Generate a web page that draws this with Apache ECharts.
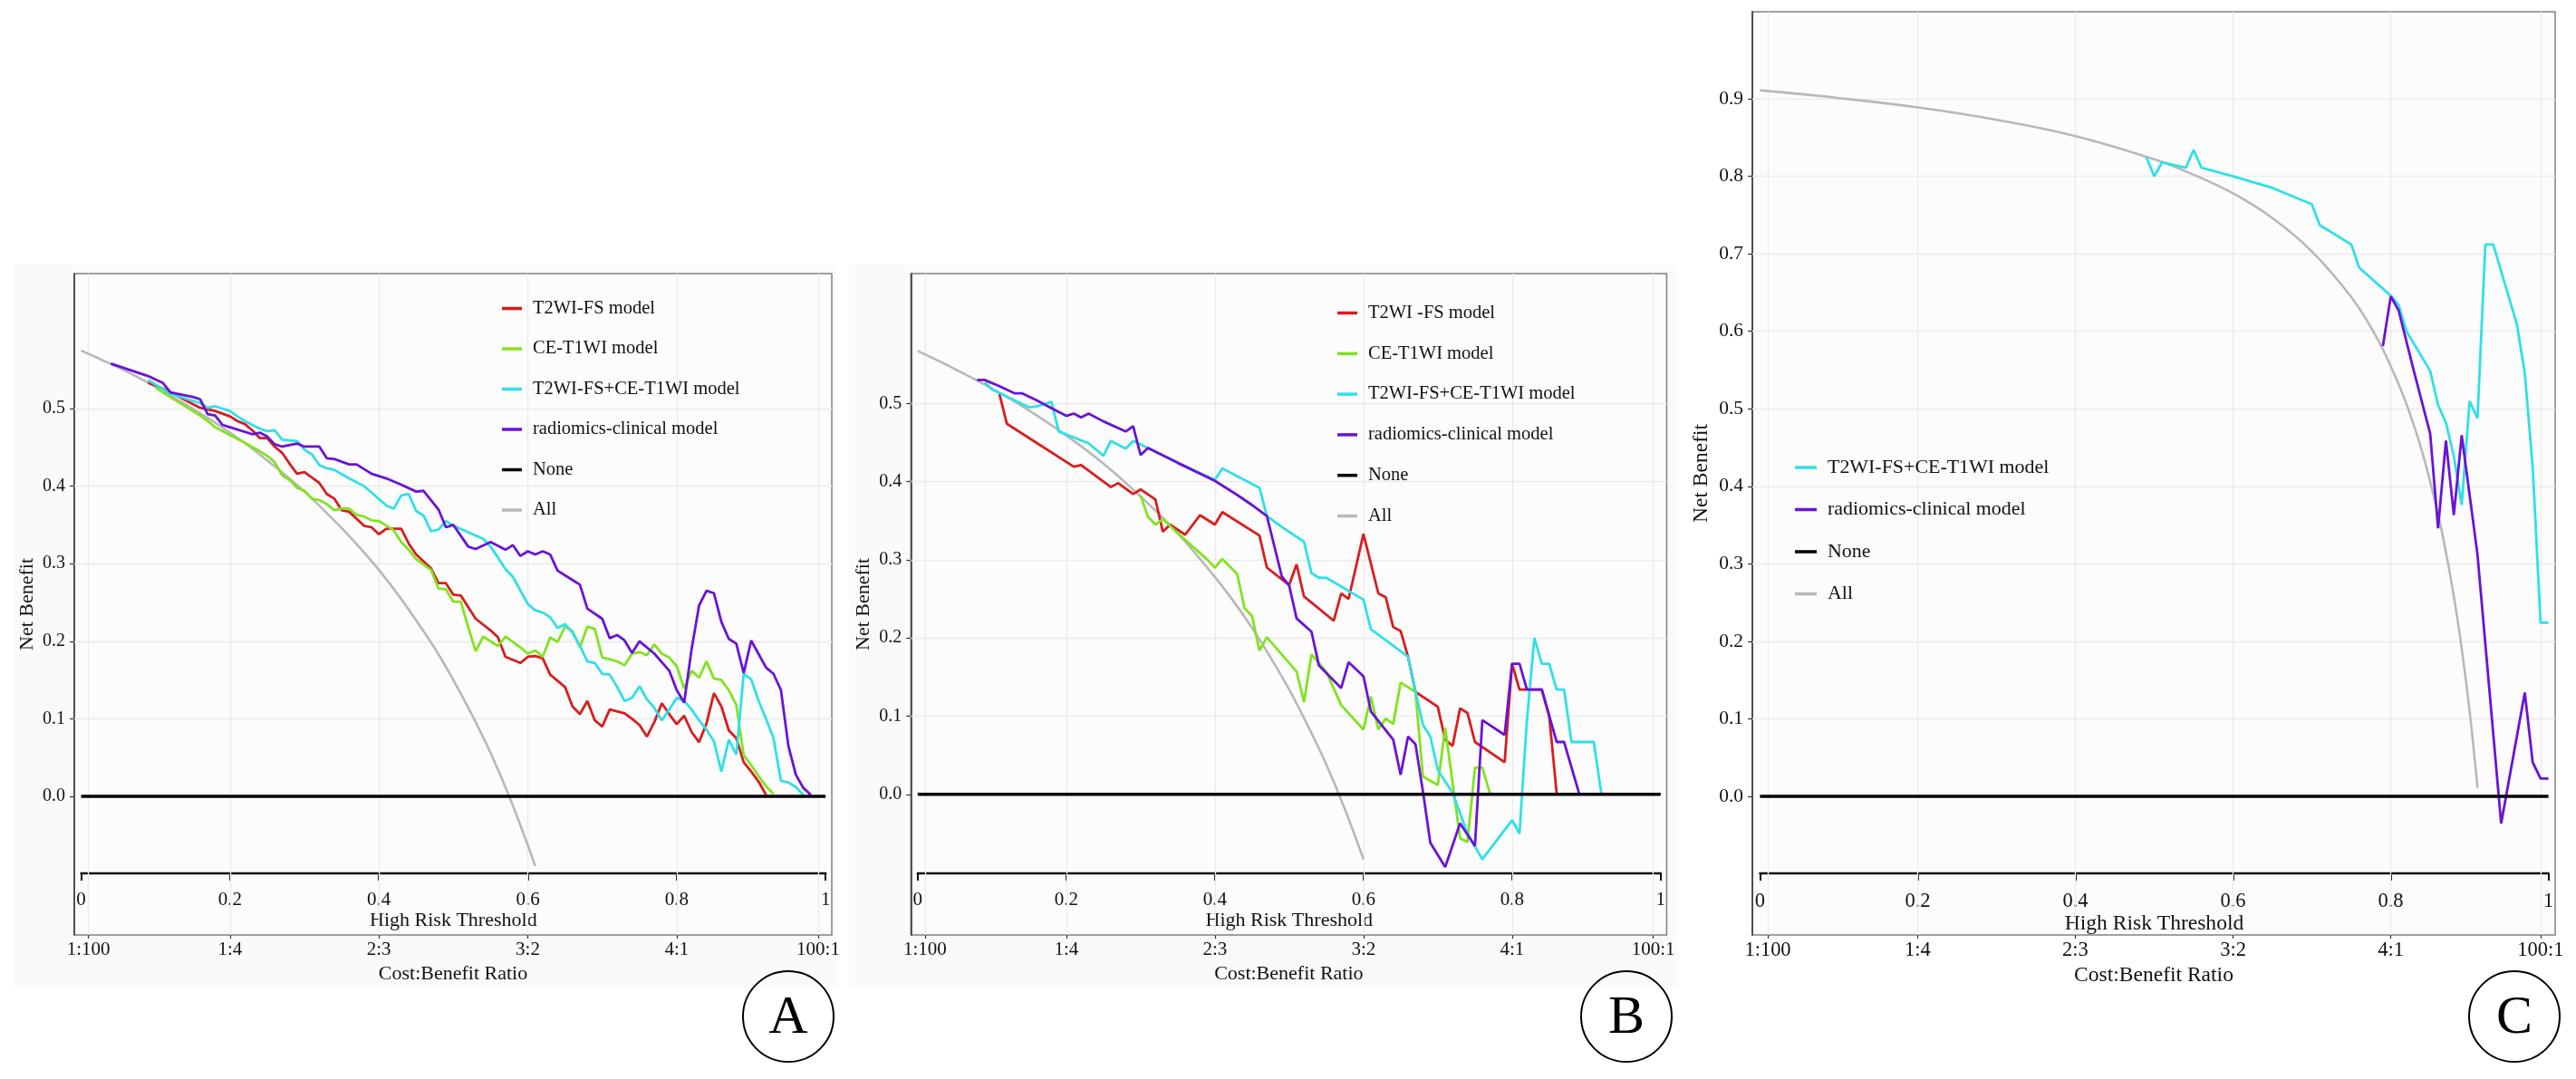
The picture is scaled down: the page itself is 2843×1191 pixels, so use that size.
<!DOCTYPE html>
<html>
<head>
<meta charset="utf-8">
<title>Decision curve analysis</title>
<script src="https://cdn.jsdelivr.net/npm/echarts@6/dist/echarts.min.js"></script>
<style>
html, body { margin: 0; padding: 0; background: #fff; }
#main { width: 2843px; height: 1191px; }
</style>
</head>
<body>
<div id="main"></div>
<script>
// cost:benefit ratio axis
const ratioTicks = [0.0099, 0.2, 0.4, 0.6, 0.8, 0.99];
const ratioLabels = ['1:100', '1:4', '2:3', '3:2', '4:1', '100:1'];
// threshold axis and net benefit ticks
const thresholdTicks = [0, 0.2, 0.4, 0.6, 0.8, 1];
const nbTicksAB = [0, 0.1, 0.2, 0.3, 0.4, 0.5];
const nbTicksC = [0, 0.1, 0.2, 0.3, 0.4, 0.5, 0.6, 0.7, 0.8, 0.9];

// reference line: treat none
const noneLine = [[0, 0], [1, 0]];

// ---- panel A: [threshold, net benefit]
const aAll = [[0, 0.575], [0.025, 0.564], [0.05, 0.553], [0.075, 0.541], [0.1, 0.528], [0.125, 0.514],
  [0.15, 0.500], [0.175, 0.485], [0.2, 0.469], [0.225, 0.452], [0.25, 0.433], [0.275, 0.414],
  [0.3, 0.393], [0.325, 0.370], [0.35, 0.346], [0.375, 0.320], [0.4, 0.292], [0.425, 0.261],
  [0.45, 0.227], [0.475, 0.191], [0.5, 0.150], [0.525, 0.105], [0.55, 0.056], [0.575, 0.000],
  [0.6, -0.063], [0.61, -0.090]];
const aT2wi = [[0.09, 0.533], [0.10, 0.530], [0.12, 0.521], [0.16, 0.501], [0.18, 0.497], [0.20, 0.490],
  [0.21, 0.484], [0.22, 0.480], [0.23, 0.472], [0.24, 0.462], [0.25, 0.462], [0.26, 0.451], [0.27, 0.443],
  [0.28, 0.429], [0.29, 0.416], [0.30, 0.418], [0.32, 0.404], [0.33, 0.390], [0.34, 0.384], [0.35, 0.369],
  [0.36, 0.367], [0.38, 0.349], [0.39, 0.347], [0.40, 0.338], [0.41, 0.345], [0.43, 0.345], [0.44, 0.326],
  [0.45, 0.312], [0.47, 0.294], [0.48, 0.275], [0.49, 0.275], [0.50, 0.260], [0.51, 0.259], [0.53, 0.229],
  [0.55, 0.214], [0.56, 0.205], [0.57, 0.180], [0.59, 0.172], [0.60, 0.180], [0.61, 0.181], [0.62, 0.178],
  [0.63, 0.157], [0.65, 0.141], [0.66, 0.116], [0.67, 0.106], [0.68, 0.123], [0.69, 0.098], [0.70, 0.090],
  [0.71, 0.112], [0.73, 0.107], [0.74, 0.100], [0.75, 0.092], [0.76, 0.077], [0.77, 0.096], [0.78, 0.120],
  [0.79, 0.106], [0.80, 0.093], [0.81, 0.104], [0.82, 0.083], [0.83, 0.070], [0.84, 0.094], [0.85, 0.133],
  [0.86, 0.116], [0.87, 0.085], [0.88, 0.075], [0.89, 0.044], [0.90, 0.032], [0.91, 0.019], [0.92, 0.002]];
const aCe = [[0.10, 0.527], [0.12, 0.515], [0.13, 0.509], [0.15, 0.497], [0.16, 0.491], [0.17, 0.484],
  [0.18, 0.476], [0.20, 0.466], [0.22, 0.456], [0.24, 0.445], [0.25, 0.439], [0.26, 0.431], [0.27, 0.414],
  [0.28, 0.408], [0.29, 0.398], [0.30, 0.394], [0.31, 0.384], [0.32, 0.382], [0.33, 0.377], [0.34, 0.369],
  [0.35, 0.371], [0.36, 0.371], [0.37, 0.363], [0.38, 0.361], [0.39, 0.356], [0.40, 0.355], [0.42, 0.343],
  [0.43, 0.328], [0.44, 0.318], [0.45, 0.306], [0.46, 0.299], [0.47, 0.292], [0.48, 0.268], [0.49, 0.267],
  [0.50, 0.251], [0.51, 0.251], [0.52, 0.218], [0.53, 0.187], [0.54, 0.206], [0.56, 0.194], [0.57, 0.206],
  [0.59, 0.192], [0.60, 0.184], [0.61, 0.188], [0.62, 0.180], [0.63, 0.205], [0.64, 0.199], [0.65, 0.219],
  [0.66, 0.213], [0.67, 0.192], [0.68, 0.219], [0.69, 0.216], [0.70, 0.179], [0.71, 0.177], [0.72, 0.174],
  [0.73, 0.169], [0.74, 0.184], [0.75, 0.186], [0.76, 0.182], [0.77, 0.196], [0.78, 0.184], [0.79, 0.179],
  [0.80, 0.168], [0.81, 0.139], [0.82, 0.162], [0.83, 0.153], [0.84, 0.174], [0.85, 0.152], [0.86, 0.150],
  [0.87, 0.137], [0.88, 0.118], [0.89, 0.053], [0.90, 0.040], [0.91, 0.026], [0.92, 0.013], [0.93, 0.003]];
const aCombo = [[0.09, 0.537], [0.12, 0.519], [0.16, 0.507], [0.17, 0.501], [0.18, 0.503], [0.20, 0.497],
  [0.21, 0.490], [0.22, 0.484], [0.24, 0.474], [0.25, 0.471], [0.26, 0.472], [0.27, 0.460], [0.29, 0.458],
  [0.30, 0.447], [0.31, 0.441], [0.32, 0.427], [0.33, 0.423], [0.34, 0.421], [0.36, 0.410], [0.38, 0.400],
  [0.39, 0.392], [0.41, 0.375], [0.42, 0.371], [0.43, 0.388], [0.44, 0.390], [0.45, 0.368], [0.46, 0.362],
  [0.47, 0.342], [0.48, 0.344], [0.49, 0.355], [0.50, 0.349], [0.54, 0.332], [0.55, 0.322], [0.56, 0.308],
  [0.57, 0.293], [0.58, 0.283], [0.60, 0.248], [0.61, 0.240], [0.62, 0.237], [0.63, 0.231], [0.64, 0.217],
  [0.65, 0.222], [0.66, 0.211], [0.67, 0.194], [0.68, 0.174], [0.69, 0.172], [0.70, 0.158], [0.71, 0.157],
  [0.72, 0.141], [0.73, 0.123], [0.74, 0.127], [0.75, 0.142], [0.76, 0.125], [0.77, 0.114], [0.78, 0.098],
  [0.79, 0.112], [0.80, 0.127], [0.81, 0.123], [0.82, 0.112], [0.83, 0.098], [0.84, 0.086], [0.85, 0.071],
  [0.86, 0.032], [0.87, 0.073], [0.88, 0.054], [0.89, 0.158], [0.90, 0.151], [0.91, 0.123], [0.92, 0.100],
  [0.93, 0.075], [0.94, 0.020], [0.95, 0.018], [0.96, 0.012], [0.97, 0.002]];
const aRadClin = [[0.04, 0.558], [0.09, 0.542], [0.11, 0.533], [0.12, 0.521], [0.15, 0.515], [0.16, 0.512],
  [0.17, 0.493], [0.18, 0.491], [0.19, 0.479], [0.20, 0.476], [0.23, 0.467], [0.24, 0.469], [0.25, 0.464],
  [0.26, 0.454], [0.27, 0.451], [0.29, 0.455], [0.30, 0.451], [0.32, 0.451], [0.33, 0.436], [0.34, 0.435],
  [0.36, 0.428], [0.37, 0.428], [0.39, 0.416], [0.41, 0.410], [0.43, 0.402], [0.45, 0.393], [0.46, 0.394],
  [0.48, 0.370], [0.49, 0.347], [0.50, 0.350], [0.52, 0.322], [0.53, 0.319], [0.55, 0.328], [0.57, 0.318],
  [0.58, 0.324], [0.59, 0.310], [0.60, 0.316], [0.61, 0.312], [0.62, 0.316], [0.63, 0.312], [0.64, 0.291],
  [0.66, 0.279], [0.67, 0.273], [0.68, 0.242], [0.70, 0.229], [0.71, 0.204], [0.72, 0.208], [0.73, 0.201],
  [0.74, 0.185], [0.75, 0.200], [0.77, 0.184], [0.79, 0.162], [0.80, 0.137], [0.81, 0.121], [0.82, 0.190],
  [0.83, 0.246], [0.84, 0.265], [0.85, 0.262], [0.86, 0.225], [0.87, 0.203], [0.88, 0.197], [0.89, 0.159],
  [0.90, 0.201], [0.92, 0.166], [0.93, 0.158], [0.94, 0.137], [0.95, 0.065], [0.96, 0.028], [0.97, 0.011],
  [0.98, 0.002]];

// ---- panel B
const bAll = [[0, 0.567], [0.05, 0.544], [0.1, 0.519], [0.15, 0.491], [0.2, 0.459], [0.25, 0.423],
  [0.3, 0.381], [0.35, 0.334], [0.4, 0.278], [0.425, 0.247], [0.45, 0.213], [0.475, 0.175], [0.5, 0.134],
  [0.525, 0.088], [0.55, 0.038], [0.575, -0.019], [0.6, -0.083]];
const bT2wi = [[0.11, 0.512], [0.12, 0.474], [0.21, 0.419], [0.22, 0.421], [0.26, 0.393], [0.27, 0.398],
  [0.29, 0.384], [0.30, 0.390], [0.32, 0.377], [0.33, 0.336], [0.34, 0.345], [0.36, 0.332], [0.38, 0.357],
  [0.40, 0.345], [0.41, 0.361], [0.46, 0.331], [0.47, 0.290], [0.49, 0.275], [0.50, 0.268], [0.51, 0.294],
  [0.52, 0.253], [0.56, 0.222], [0.57, 0.257], [0.58, 0.250], [0.60, 0.333], [0.62, 0.257], [0.63, 0.252],
  [0.64, 0.214], [0.65, 0.209], [0.66, 0.176], [0.67, 0.131], [0.70, 0.112], [0.71, 0.070], [0.72, 0.062],
  [0.73, 0.110], [0.74, 0.104], [0.75, 0.067], [0.79, 0.041], [0.80, 0.167], [0.81, 0.134], [0.84, 0.134],
  [0.85, 0.100], [0.86, 0.002]];
const bCe = [[0.30, 0.382], [0.31, 0.355], [0.32, 0.345], [0.33, 0.352], [0.35, 0.334], [0.37, 0.317],
  [0.39, 0.300], [0.40, 0.290], [0.41, 0.301], [0.43, 0.282], [0.44, 0.238], [0.45, 0.228], [0.46, 0.184],
  [0.47, 0.201], [0.51, 0.157], [0.52, 0.118], [0.53, 0.179], [0.55, 0.157], [0.57, 0.114], [0.60, 0.083],
  [0.61, 0.125], [0.62, 0.083], [0.63, 0.097], [0.64, 0.090], [0.65, 0.143], [0.67, 0.131], [0.68, 0.023],
  [0.70, 0.012], [0.71, 0.085], [0.73, -0.056], [0.74, -0.061], [0.75, 0.034], [0.76, 0.034], [0.77, 0.002]];
const bCombo = [[0.09, 0.527], [0.10, 0.518], [0.13, 0.504], [0.15, 0.495], [0.16, 0.496], [0.18, 0.502],
  [0.19, 0.464], [0.23, 0.449], [0.25, 0.433], [0.26, 0.452], [0.28, 0.442], [0.29, 0.452], [0.31, 0.443],
  [0.35, 0.424], [0.40, 0.402], [0.41, 0.417], [0.46, 0.392], [0.47, 0.356], [0.49, 0.342], [0.52, 0.323],
  [0.53, 0.283], [0.54, 0.277], [0.55, 0.277], [0.60, 0.249], [0.61, 0.211], [0.66, 0.176], [0.67, 0.132],
  [0.68, 0.089], [0.69, 0.074], [0.70, 0.031], [0.72, 0.002], [0.74, -0.050], [0.76, -0.083], [0.80, -0.033],
  [0.81, -0.050], [0.82, 0.095], [0.83, 0.200], [0.84, 0.167], [0.85, 0.167], [0.86, 0.134], [0.87, 0.134],
  [0.88, 0.067], [0.91, 0.067], [0.92, 0.002]];
const bRadClin = [[0.08, 0.530], [0.09, 0.530], [0.11, 0.522], [0.13, 0.513], [0.14, 0.513], [0.16, 0.504],
  [0.18, 0.494], [0.20, 0.484], [0.21, 0.487], [0.22, 0.482], [0.23, 0.487], [0.25, 0.477], [0.28, 0.464],
  [0.29, 0.471], [0.30, 0.434], [0.31, 0.443], [0.35, 0.424], [0.40, 0.401], [0.43, 0.383], [0.45, 0.370],
  [0.47, 0.356], [0.49, 0.279], [0.50, 0.267], [0.51, 0.225], [0.53, 0.208], [0.54, 0.165], [0.57, 0.136],
  [0.58, 0.169], [0.60, 0.151], [0.61, 0.106], [0.64, 0.070], [0.65, 0.025], [0.66, 0.074], [0.67, 0.064],
  [0.68, 0.004], [0.69, -0.062], [0.71, -0.093], [0.73, -0.037], [0.75, -0.066], [0.76, 0.095], [0.79, 0.076],
  [0.80, 0.167], [0.81, 0.167], [0.82, 0.134], [0.84, 0.134], [0.86, 0.067], [0.87, 0.067], [0.89, 0.002]];

// ---- panel C
const cAll = [[0, 0.911], [0.1, 0.901], [0.2, 0.889], [0.3, 0.873], [0.4, 0.852], [0.5, 0.822],
  [0.55, 0.802], [0.6, 0.778], [0.65, 0.746], [0.7, 0.703], [0.75, 0.644], [0.78, 0.596], [0.8, 0.555],
  [0.82, 0.506], [0.84, 0.444], [0.86, 0.364], [0.87, 0.315], [0.88, 0.258], [0.89, 0.191], [0.9, 0.110],
  [0.91, 0.011]];
const cCombo = [[0.49, 0.825], [0.50, 0.800], [0.51, 0.818], [0.54, 0.811], [0.55, 0.834], [0.56, 0.811],
  [0.60, 0.800], [0.65, 0.785], [0.70, 0.764], [0.71, 0.737], [0.75, 0.712], [0.76, 0.682], [0.80, 0.646],
  [0.81, 0.634], [0.82, 0.600], [0.85, 0.549], [0.86, 0.505], [0.87, 0.482], [0.88, 0.439], [0.89, 0.376],
  [0.90, 0.510], [0.91, 0.488], [0.92, 0.712], [0.93, 0.712], [0.96, 0.609], [0.97, 0.546], [0.98, 0.425],
  [0.99, 0.224], [1.00, 0.224]];
const cRadClin = [[0.79, 0.581], [0.80, 0.645], [0.81, 0.627], [0.83, 0.546], [0.85, 0.468], [0.86, 0.346],
  [0.87, 0.459], [0.88, 0.363], [0.89, 0.466], [0.91, 0.312], [0.94, -0.035], [0.97, 0.134], [0.98, 0.044],
  [0.99, 0.023], [1.00, 0.023]];

const RED = '#d81d1d', GREEN = '#82e31f', CYAN = '#2fe0e8', PURPLE = '#6914d6', GRAY = '#b8b8b8';
const FONT = 'Liberation Serif';

const panels = [
  { frame: { left: 82, top: 302, width: 836, height: 730 }, thr: { left: 89.5, width: 821.7 },
    xr: [-0.00913, 1.00828], yr: [-0.1787, 0.6741], yTicks: nbTicksAB, fs: 1,
    legend: { left: 554, top: 330, w: 22, gap: 23.5 }, letter: 'A', cx: 870, bg: [15, 292, 908, 798],
    series: [['All', aAll, GRAY], ['T2WI-FS model', aT2wi, RED], ['CE-T1WI model', aCe, GREEN],
      ['T2WI-FS+CE-T1WI model', aCombo, CYAN], ['radiomics-clinical model', aRadClin, PURPLE]],
    legendNames: ['T2WI-FS model', 'CE-T1WI model', 'T2WI-FS+CE-T1WI model', 'radiomics-clinical model', 'None', 'All'] },
  { frame: { left: 1005.3, top: 302, width: 834.1, height: 730 }, thr: { left: 1012.8, width: 820 },
    xr: [-0.00915, 1.00805], yr: [-0.1798, 0.666], yTicks: nbTicksAB, fs: 1,
    legend: { left: 1476, top: 335, w: 22, gap: 23.8 }, letter: 'B', cx: 1795, bg: [937, 292, 913, 798],
    series: [['All', bAll, GRAY], ['T2WI -FS model', bT2wi, RED], ['CE-T1WI model', bCe, GREEN],
      ['T2WI-FS+CE-T1WI model', bCombo, CYAN], ['radiomics-clinical model', bRadClin, PURPLE]],
    legendNames: ['T2WI -FS model', 'CE-T1WI model', 'T2WI-FS+CE-T1WI model', 'radiomics-clinical model', 'None', 'All'] },
  { frame: { left: 1934, top: 13, width: 886, height: 1019 }, thr: { left: 1942.4, width: 870.2 },
    xr: [-0.00965, 1.00851], yr: [-0.1788, 1.0123], yTicks: nbTicksC, fs: 1.07,
    legend: { left: 1981, top: 505, w: 24, gap: 24.5 }, letter: 'C', cx: 2775, bg: null,
    series: [['All', cAll, GRAY], ['T2WI-FS+CE-T1WI model', cCombo, CYAN], ['radiomics-clinical model', cRadClin, PURPLE]],
    legendNames: ['T2WI-FS+CE-T1WI model', 'radiomics-clinical model', 'None', 'All'] }
];

const grids = [], xAxes = [], yAxes = [], series = [], legends = [], graphics = [];

panels.forEach(function (p, i) {
  const g = 2 * i;
  const fs = p.fs;
  grids.push({ left: p.frame.left, top: p.frame.top, width: p.frame.width, height: p.frame.height,
    show: true, backgroundColor: '#fcfcfc', borderColor: '#808080', borderWidth: 1.5,
    containLabel: false, outerBoundsMode: 'none' });
  grids.push({ left: p.thr.left, width: p.thr.width, top: 900, height: 64, show: false,
    containLabel: false, outerBoundsMode: 'none' });

  xAxes.push({ gridIndex: g, type: 'value', min: p.xr[0], max: p.xr[1], position: 'bottom',
    axisLine: { show: false, onZero: false },
    axisTick: { show: true, length: 4, customValues: ratioTicks, lineStyle: { color: '#333', width: 1.2 } },
    axisLabel: { customValues: ratioTicks, margin: 6, color: '#111', fontFamily: FONT, fontSize: 21 * fs,
      formatter: function (v) {
        const k = ratioTicks.findIndex(function (r) { return Math.abs(r - v) < 1e-6; });
        return k >= 0 ? ratioLabels[k] : '';
      } },
    splitLine: { show: false },
    name: 'Cost:Benefit Ratio', nameLocation: 'middle', nameGap: 29 * fs,
    nameTextStyle: { color: '#111', fontFamily: FONT, fontSize: 22 * fs } });
  xAxes.push({ gridIndex: g + 1, type: 'value', min: 0, max: 1, interval: 0.2, position: 'bottom',
    axisLine: { show: true, onZero: false, lineStyle: { color: '#111', width: 2.4 } },
    axisTick: { show: true, length: 8, customValues: thresholdTicks, lineStyle: { color: '#111', width: 2 } },
    axisLabel: { customValues: thresholdTicks, margin: 19 * fs, color: '#111', fontFamily: FONT, fontSize: 21 * fs,
      formatter: function (v) { return String(Math.round(v * 10) / 10); } },
    splitLine: { show: false },
    name: 'High Risk Threshold', nameLocation: 'middle', nameGap: 41 * fs,
    nameTextStyle: { color: '#111', fontFamily: FONT, fontSize: 22 * fs } });

  yAxes.push({ gridIndex: g, type: 'value', min: p.yr[0], max: p.yr[1],
    axisLine: { show: true, onZero: false, lineStyle: { color: '#333', width: 1.5 } },
    axisTick: { show: true, length: 5, customValues: p.yTicks, lineStyle: { color: '#333', width: 1.2 } },
    axisLabel: { customValues: p.yTicks, margin: 10, color: '#111', fontFamily: FONT, fontSize: 20 * fs,
      formatter: function (v) { return v.toFixed(1); } },
    splitLine: { show: false },
    name: 'Net Benefit', nameLocation: 'middle', nameRotate: 90, nameGap: 41 * fs,
    nameTextStyle: { color: '#111', fontFamily: FONT, fontSize: 22 * fs } });
  yAxes.push({ gridIndex: g + 1, type: 'value', min: 0, max: 1, show: false });

  // light grid lines at the ratio positions and at the labelled net benefit values (drawn under the curves)
  const gridMarks = ratioTicks.map(function (t) { return { xAxis: t }; })
    .concat(p.yTicks.filter(function (v) { return v > 0; }).map(function (v) { return { yAxis: v }; }));
  series.push({ name: 'grid', type: 'line', xAxisIndex: g, yAxisIndex: g, data: noneLine, silent: true,
    symbol: 'none', z: 1, lineStyle: { opacity: 0 },
    markLine: { silent: true, z: 1, symbol: 'none', label: { show: false }, animation: false,
      lineStyle: { color: '#ebebeb', width: 1.3, type: 'solid' }, data: gridMarks } });

  p.series.forEach(function (s) {
    const isAll = s[0] === 'All';
    series.push({ name: s[0], type: 'line', xAxisIndex: g, yAxisIndex: g, data: s[1],
      symbol: 'none', smooth: isAll ? 0.4 : false, z: isAll ? 2 : 3,
      lineStyle: { color: s[2], width: isAll ? 2.6 : 2.8 }, itemStyle: { color: s[2] } });
  });
  series.push({ name: 'None', type: 'line', xAxisIndex: g, yAxisIndex: g, data: noneLine,
    symbol: 'none', z: 6, lineStyle: { color: '#000', width: 3.5 }, itemStyle: { color: '#000' } });

  legends.push({ orient: 'vertical', left: p.legend.left, top: p.legend.top, padding: 0,
    itemGap: p.legend.gap, itemWidth: p.legend.w, itemHeight: 3.5, icon: 'rect',
    selectedMode: false, data: p.legendNames,
    textStyle: { fontFamily: FONT, fontSize: 20.5 * fs, color: '#111', lineHeight: 20, padding: [0, 0, 0, 7] } });

  if (p.bg) {
    graphics.push({ type: 'rect', z: -10, silent: true,
      shape: { x: p.bg[0], y: p.bg[1], width: p.bg[2], height: p.bg[3] }, style: { fill: '#fafafa' } });
  }
  graphics.push({ type: 'circle', z: 10, silent: true, shape: { cx: p.cx, cy: 1122, r: 50 },
    style: { fill: 'none', stroke: '#000', lineWidth: 2 } });
  graphics.push({ type: 'text', z: 10, silent: true, x: p.cx, y: 1124,
    style: { text: p.letter, font: '60px "Liberation Serif"', fill: '#000', align: 'center', verticalAlign: 'middle' } });
});

const chart = echarts.init(document.getElementById('main'), null, { renderer: 'canvas' });
chart.setOption({
  animation: false,
  backgroundColor: '#ffffff',
  textStyle: { fontFamily: FONT },
  grid: grids,
  xAxis: xAxes,
  yAxis: yAxes,
  legend: legends,
  graphic: graphics,
  series: series
});
</script>
</body>
</html>
